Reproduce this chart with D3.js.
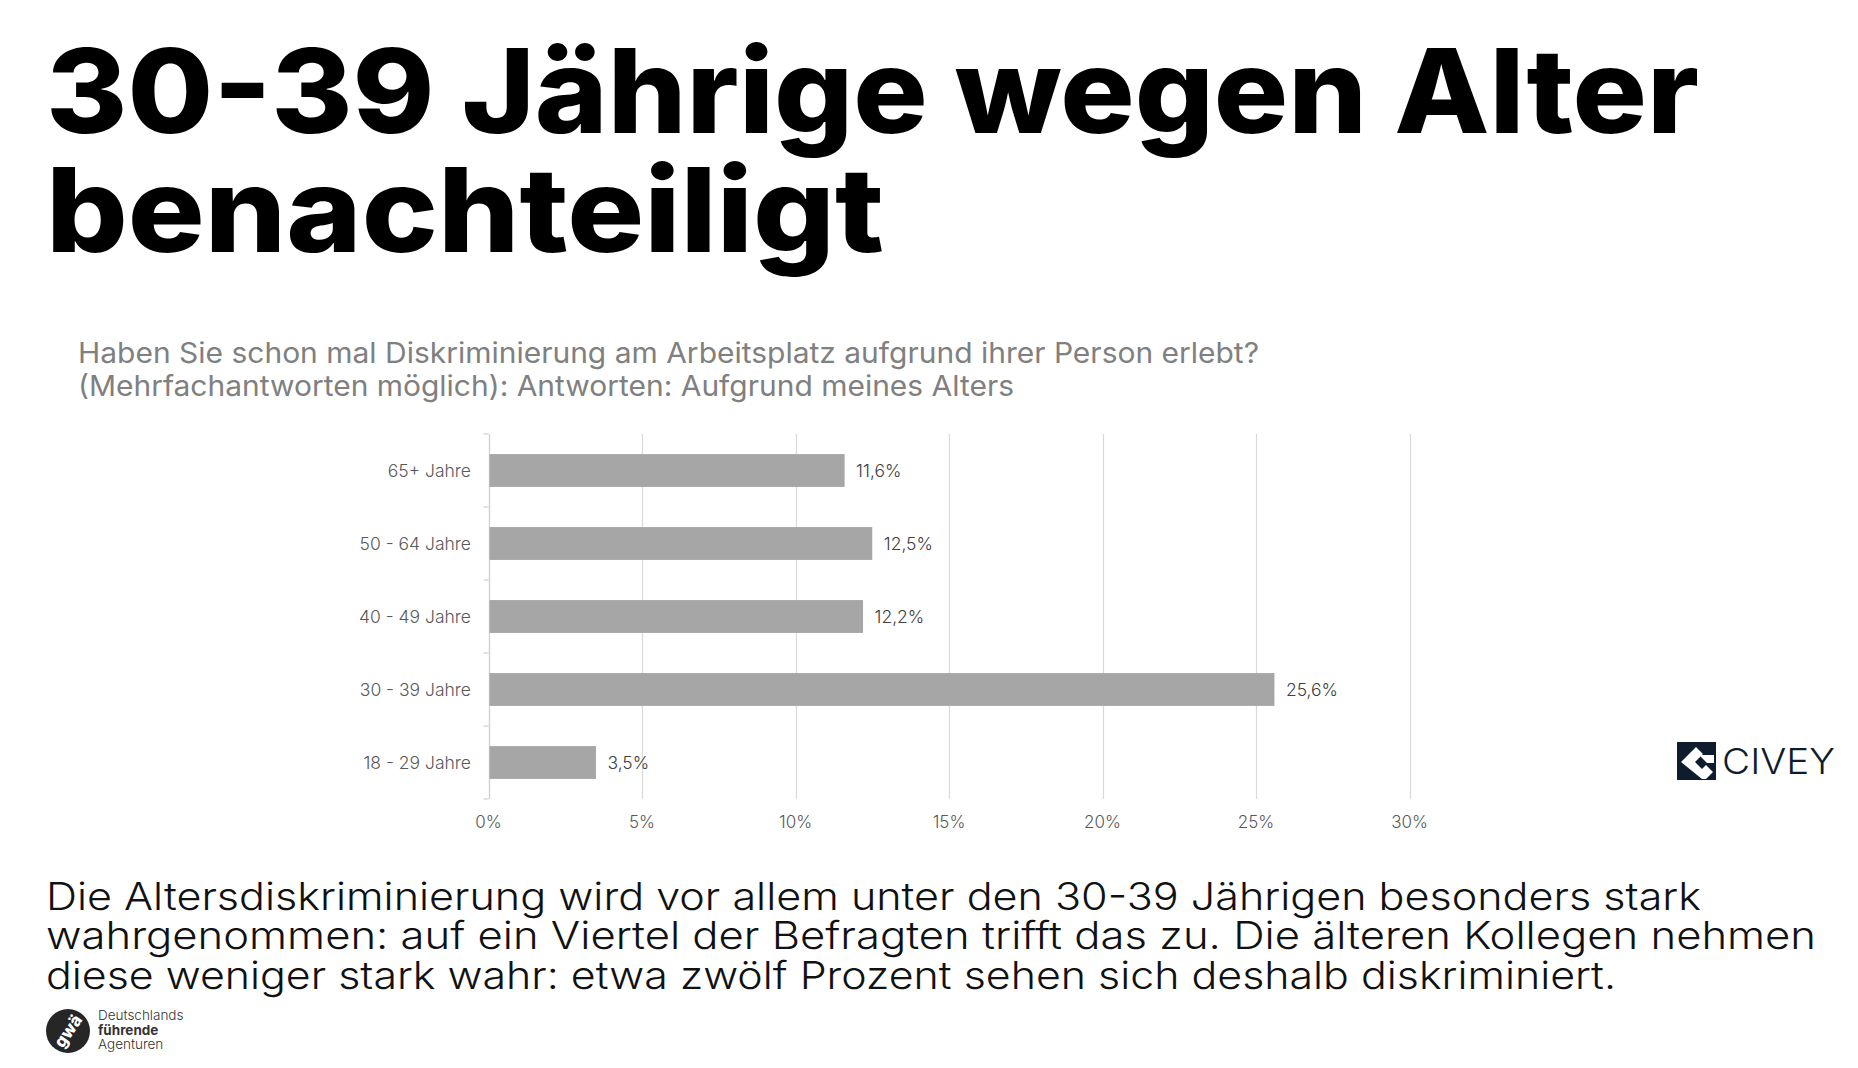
<!DOCTYPE html>
<html>
<head>
<meta charset="utf-8">
<script src="https://cdn.jsdelivr.net/npm/d3@7"></script>
<style>
  html, body { margin: 0; padding: 0; background: #ffffff; }
  svg { display: block; }
  text { font-family: Inter, "Noto Sans", "DejaVu Sans", sans-serif; }
</style>
</head>
<body>
<svg id="chart" width="1858" height="1068"></svg>
<script>
// ---- Data ----
const categories = ["65+ Jahre", "50 - 64 Jahre", "40 - 49 Jahre", "30 - 39 Jahre", "18 - 29 Jahre"];
const values = [11.6, 12.5, 12.2, 25.6, 3.5];
const valueLabels = ["11,6%", "12,5%", "12,2%", "25,6%", "3,5%"];
const xTicks = [0, 5, 10, 15, 20, 25, 30];
const xTickLabels = ["0%", "5%", "10%", "15%", "20%", "25%", "30%"];
const titleLines = ["30-39 Jährige wegen Alter", "benachteiligt"];
const subtitleLines = [
  "Haben Sie schon mal Diskriminierung am Arbeitsplatz aufgrund ihrer Person erlebt?",
  "(Mehrfachantworten möglich): Antworten: Aufgrund meines Alters"
];
const bodyLines = [
  "Die Altersdiskriminierung wird vor allem unter den 30-39 Jährigen besonders stark",
  "wahrgenommen: auf ein Viertel der Befragten trifft das zu. Die älteren Kollegen nehmen",
  "diese weniger stark wahr: etwa zwölf Prozent sehen sich deshalb diskriminiert."
];

const svg = d3.select("#chart");

// ---- Title ----
const titleSpec = [{x: 46, y: 133, w: 1653}, {x: 46, y: 252, w: 838}];
titleLines.forEach((t, i) => {
  svg.append("text")
    .attr("x", titleSpec[i].x).attr("y", titleSpec[i].y)
    .attr("font-size", 117).attr("font-weight", 800).attr("fill", "#000")
    .attr("textLength", titleSpec[i].w).attr("lengthAdjust", "spacingAndGlyphs")
    .text(t);
});

// ---- Subtitle ----
const subSpec = [{x: 78, y: 363, w: 1181}, {x: 78, y: 396, w: 936}];
subtitleLines.forEach((t, i) => {
  svg.append("text")
    .attr("x", subSpec[i].x).attr("y", subSpec[i].y)
    .attr("font-size", 28.5).attr("font-weight", 400).attr("fill", "#808080")
    .attr("textLength", subSpec[i].w).attr("lengthAdjust", "spacingAndGlyphs")
    .text(t);
});

// ---- Chart ----
const x = d3.scaleLinear().domain([0, 30]).range([488.5, 1409.5]);
const y = d3.scaleBand().domain(categories).range([434, 799]).paddingInner(0.55).paddingOuter(0.275);

const g = svg.append("g");

// gridlines
g.selectAll("line.grid").data(xTicks).join("line")
  .attr("class", "grid")
  .attr("x1", d => Math.round(x(d)) + 0.5).attr("x2", d => Math.round(x(d)) + 0.5)
  .attr("y1", 434).attr("y2", 799)
  .attr("stroke", "#d9d9d9").attr("stroke-width", 1.2);

// y axis with ticks at band boundaries
const step = y.step();
const boundaries = d3.range(categories.length + 1).map(i => 434 + i * step);
g.append("line")
  .attr("x1", Math.round(x(0)) + 0.5).attr("x2", Math.round(x(0)) + 0.5)
  .attr("y1", 434).attr("y2", 799)
  .attr("stroke", "#d0d0d0").attr("stroke-width", 1.2);
g.selectAll("line.ytick").data(boundaries).join("line")
  .attr("class", "ytick")
  .attr("x1", x(0) - 5).attr("x2", x(0))
  .attr("y1", d => d).attr("y2", d => d)
  .attr("stroke", "#d0d0d0").attr("stroke-width", 1.2);

// bars
g.selectAll("rect.bar").data(categories).join("rect")
  .attr("class", "bar")
  .attr("x", x(0) + 1)
  .attr("y", d => y(d))
  .attr("width", (d, i) => x(values[i]) - x(0) - 1)
  .attr("height", y.bandwidth())
  .attr("fill", "#a6a6a6");

// category labels
g.selectAll("text.cat").data(categories).join("text")
  .attr("class", "cat")
  .attr("x", 471)
  .attr("y", d => y(d) + y.bandwidth() / 2)
  .attr("dy", "0.35em")
  .attr("text-anchor", "end")
  .attr("font-size", 17.5).attr("font-weight", 300).attr("fill", "#595959")
  .text(d => d);

// value labels
g.selectAll("text.val").data(categories).join("text")
  .attr("class", "val")
  .attr("x", (d, i) => x(values[i]) + 11.5)
  .attr("y", d => y(d) + y.bandwidth() / 2)
  .attr("dy", "0.35em")
  .attr("font-size", 17.5).attr("font-weight", 300).attr("fill", "#404040")
  .text((d, i) => valueLabels[i]);

// x tick labels
g.selectAll("text.xt").data(xTicks).join("text")
  .attr("class", "xt")
  .attr("x", d => x(d))
  .attr("y", 822)
  .attr("dy", "0.35em")
  .attr("text-anchor", "middle")
  .attr("font-size", 17).attr("font-weight", 300).attr("fill", "#595959")
  .text((d, i) => xTickLabels[i]);

// ---- Body text ----
const bodySpec = [{x: 46, y: 910, w: 1655}, {x: 46, y: 949, w: 1770}, {x: 46, y: 989, w: 1570}];
bodyLines.forEach((t, i) => {
  svg.append("text")
    .attr("x", bodySpec[i].x).attr("y", bodySpec[i].y)
    .attr("font-size", 38.5).attr("font-weight", 300).attr("fill", "#111")
    .attr("textLength", bodySpec[i].w).attr("lengthAdjust", "spacingAndGlyphs")
    .text(t);
});

// ---- GWA logo ----
const gwa = svg.append("g").attr("transform", "translate(68,1031)");
gwa.append("circle").attr("r", 22).attr("fill", "#262626");
gwa.append("text")
  .attr("transform", "rotate(-55)")
  .attr("text-anchor", "middle").attr("dy", "0.35em")
  .attr("font-size", 17).attr("font-weight", 800).attr("fill", "#fff")
  .text("gwä");
const gwaText = [
  {t: "Deutschlands", y: 1020, w: 300},
  {t: "führende", y: 1035, w: 700},
  {t: "Agenturen", y: 1049, w: 300}
];
gwaText.forEach(d => {
  svg.append("text").attr("x", 98).attr("y", d.y)
    .attr("font-size", 13.5).attr("font-weight", d.w).attr("fill", "#333")
    .text(d.t);
});

// ---- CIVEY logo ----
const civ = svg.append("g").attr("transform", "translate(1677,742)");
civ.append("rect").attr("width", 39).attr("height", 38).attr("fill", "#0f1c2e");
civ.append("path")
  .attr("d", "M4,20 L19,5 L26,12 L18,20 L25,27 L29,23 L36,30 L29,37 L25,37 Z")
  .attr("fill", "#fff");
civ.append("path")
  .attr("d", "M22,13 L37,13 L37,21 L30,21 Z")
  .attr("fill", "#fff");
svg.append("text")
  .attr("x", 1722).attr("y", 774)
  .attr("font-size", 36).attr("font-weight", 300).attr("fill", "#0f1c2e")
  .attr("textLength", 113).attr("lengthAdjust", "spacingAndGlyphs")
  .text("CIVEY");
</script>
</body>
</html>
